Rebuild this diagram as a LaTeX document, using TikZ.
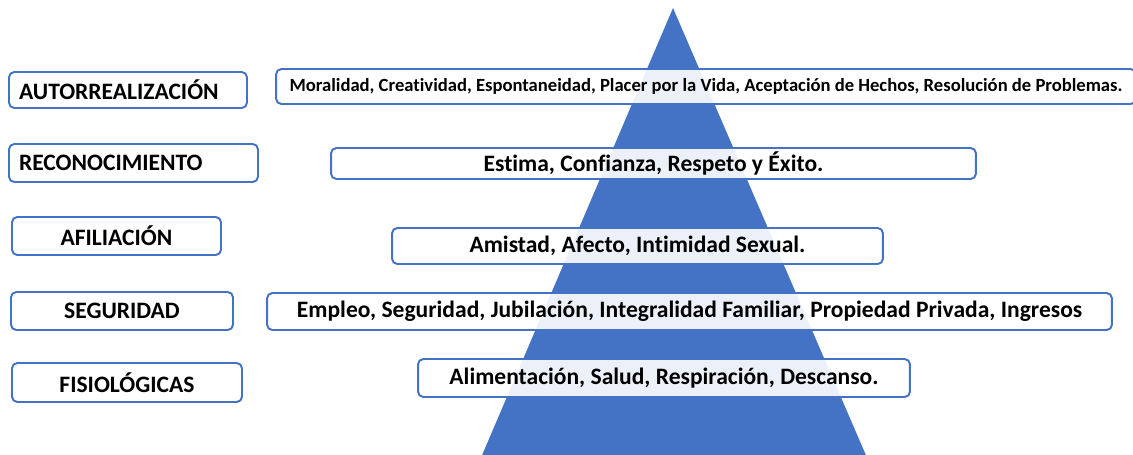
\documentclass[tikz,border=0pt]{standalone}
\usepackage{fontspec}
\setmainfont{Carlito}[Ligatures=NoCommon]
\usepackage{tikz}
\definecolor{pyrblue}{HTML}{4472C4}
\tikzset{
  levelbox/.style = {draw=pyrblue, line width=1.1pt, rounded corners=3pt, fill=white, fill opacity=0.9, text opacity=1, inner sep=0pt, font=\fontsize{13.4}{15}\selectfont\bfseries},
  needbox/.style = {levelbox},
}

\begin{document}
\begin{tikzpicture}[x=0.02cm, y=-0.02cm]
\useasboundingbox (0,0) rectangle (1133,454);
% piramide
\fill[pyrblue] (673,8) -- (480,460) -- (868,460) -- cycle;

% niveles (izquierda)
\node[levelbox, minimum height=0.72cm, text width=4.36cm, inner xsep=0.2cm, align=left] (autorr) at (128,90) {AUTORREALIZACIÓN};
\node[levelbox, minimum height=0.76cm, text width=4.58cm, inner xsep=0.2cm, align=left] (recon) at (133.5,163) {RECONOCIMIENTO};
\node[levelbox, minimum width=4.18cm, minimum height=0.76cm] (afil) at (116.5,236) {AFILIACIÓN};
\node[levelbox, minimum width=4.44cm, minimum height=0.76cm] (segur) at (122,311) {SEGURIDAD};
\node[levelbox, minimum width=4.60cm, minimum height=0.78cm] (fisio) at (127,382.5) {FISIOLÓGICAS};

% necesidades (derecha)
\node[needbox, minimum width=17.2cm, minimum height=0.70cm, font=\fontsize{10.6}{12}\selectfont\bfseries] (autorrN) at (706,86.5) {Moralidad, Creatividad, Espontaneidad, Placer por la Vida, Aceptación de Hechos, Resolución de Problemas.};
\node[needbox, minimum width=12.9cm, minimum height=0.62cm] (reconN) at (653.5,163.5) {Estima, Confianza, Respeto y Éxito.};
\node[needbox, minimum width=9.82cm, minimum height=0.72cm] (afilN) at (637.5,246) {Amistad, Afecto, Intimidad Sexual.};
\node[needbox, minimum width=16.9cm, minimum height=0.74cm] (segurN) at (689.5,311.5) {Empleo, Seguridad, Jubilación, Integralidad Familiar, Propiedad Privada, Ingresos};
\node[needbox, minimum width=9.84cm, minimum height=0.76cm] (fisioN) at (664,378) {Alimentación, Salud, Respiración, Descanso.};
\end{tikzpicture}
\end{document}
